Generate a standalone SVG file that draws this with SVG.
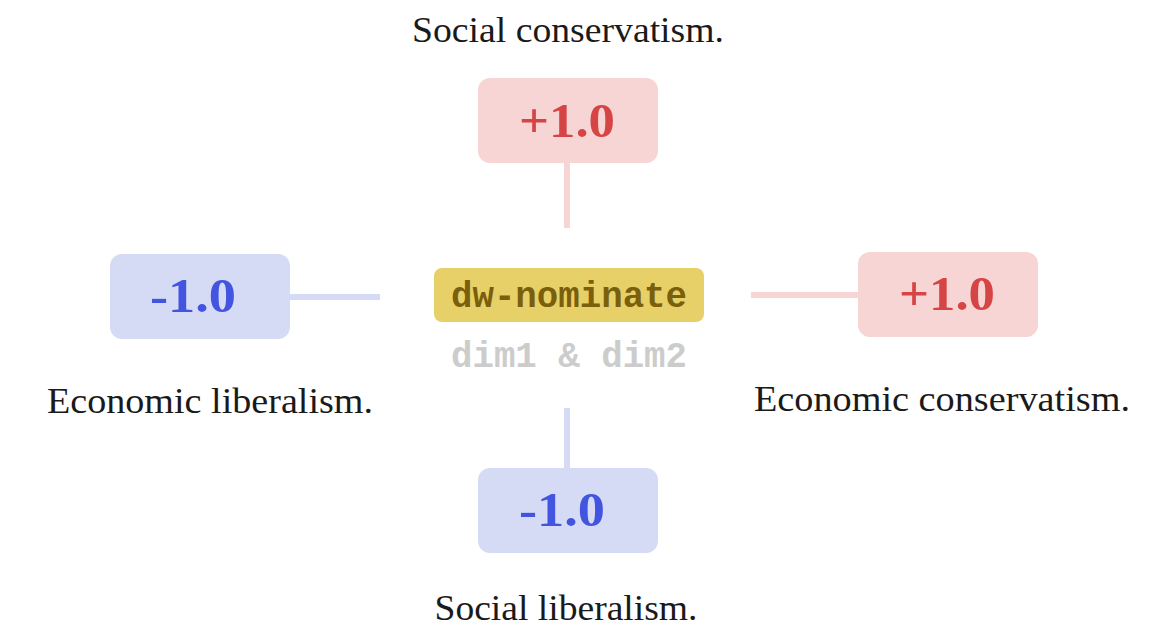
<svg xmlns="http://www.w3.org/2000/svg" width="1152" height="642" viewBox="0 0 1152 642">
<style>
.lbl{font-family:"Liberation Serif",serif;font-size:36px;fill:#1a1a1a;text-anchor:middle}
.val{font-family:"Liberation Serif",serif;font-weight:bold;font-size:48px;text-anchor:middle}
.pos rect{fill:#f7d5d5}
.pos text.val{fill:#d64545}
.neg rect{fill:#d6dbf5}
.neg text.val{fill:#4355e0}
.mono{font-family:"Liberation Mono",monospace;font-weight:bold;font-size:36px;text-anchor:middle}
</style>
<rect width="1152" height="642" fill="#ffffff"/>
<g id="connectors" stroke-width="6" fill="none">
<line x1="567" y1="163" x2="567" y2="228" stroke="#f7d5d5"/>
<line x1="290" y1="297" x2="380" y2="297" stroke="#d6dbf5"/>
<line x1="751" y1="295" x2="858" y2="295" stroke="#f7d5d5"/>
<line x1="567" y1="408" x2="567" y2="468" stroke="#d6dbf5"/>
</g>
<g id="center">
<rect x="434" y="268" width="270" height="54" rx="8" fill="#e8d068"/>
<text class="mono" x="569" y="307" fill="#7a5f0c" textLength="236" lengthAdjust="spacingAndGlyphs">dw-nominate</text>
<text class="mono" x="569" y="367" fill="#cccccc" textLength="236" lengthAdjust="spacingAndGlyphs">dim1 &amp; dim2</text>
</g>
<g id="top" class="pos">
<rect x="478" y="78" width="180" height="85" rx="12"/>
<text class="val" x="567" y="137" textLength="96" lengthAdjust="spacingAndGlyphs">+1.0</text>
<text class="lbl" x="568" y="42" textLength="312" lengthAdjust="spacingAndGlyphs">Social conservatism.</text>
</g>
<g id="left" class="neg">
<rect x="110" y="254" width="180" height="85" rx="12"/>
<text class="val" x="193" y="312" textLength="86" lengthAdjust="spacingAndGlyphs">-1.0</text>
<text class="lbl" x="210" y="413" textLength="326" lengthAdjust="spacingAndGlyphs">Economic liberalism.</text>
</g>
<g id="right" class="pos">
<rect x="858" y="252" width="180" height="85" rx="12"/>
<text class="val" x="947" y="310" textLength="96" lengthAdjust="spacingAndGlyphs">+1.0</text>
<text class="lbl" x="942" y="411" textLength="376" lengthAdjust="spacingAndGlyphs">Economic conservatism.</text>
</g>
<g id="bottom" class="neg">
<rect x="478" y="468" width="180" height="85" rx="12"/>
<text class="val" x="562" y="526" textLength="86" lengthAdjust="spacingAndGlyphs">-1.0</text>
<text class="lbl" x="566" y="620" textLength="263" lengthAdjust="spacingAndGlyphs">Social liberalism.</text>
</g>
</svg>
